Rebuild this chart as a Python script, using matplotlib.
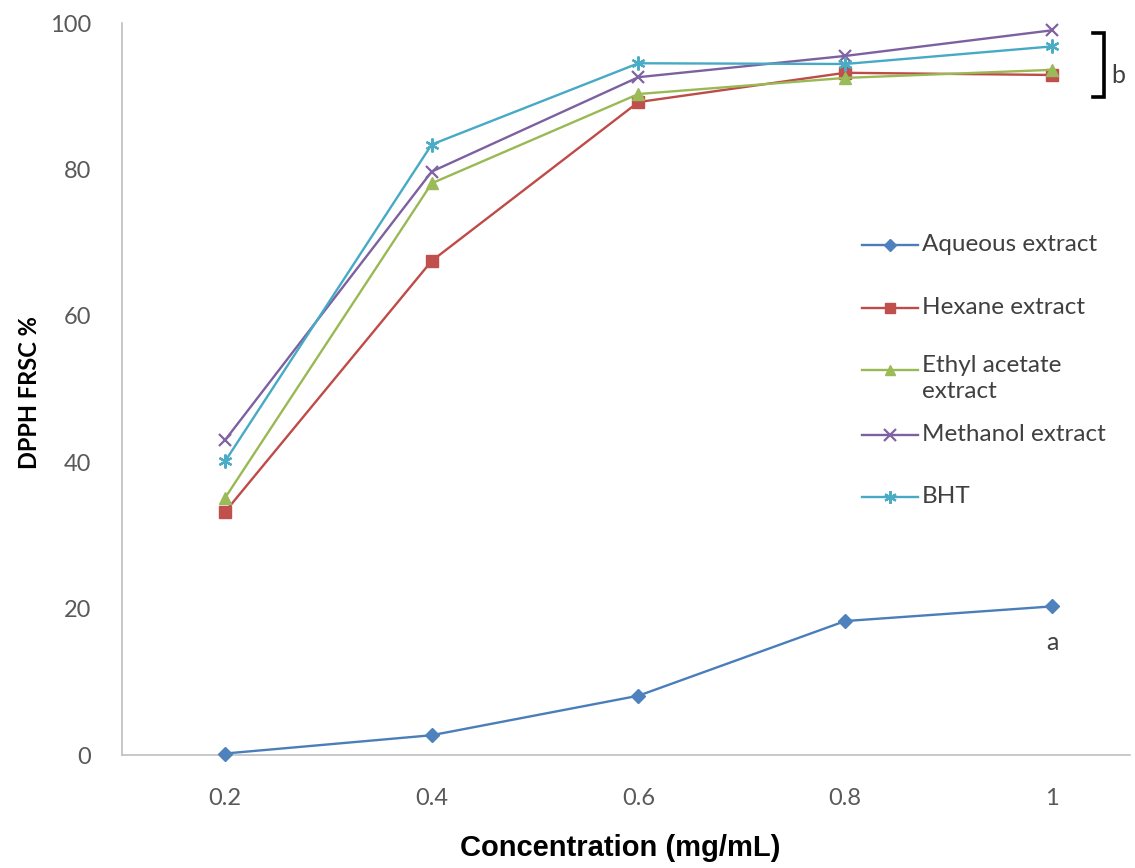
import matplotlib
matplotlib.use("Agg")
import matplotlib.pyplot as plt
from matplotlib.lines import Line2D

concentration = [0.2, 0.4, 0.6, 0.8, 1.0]
x_tick_labels = ["0.2", "0.4", "0.6", "0.8", "1"]
y_ticks = [0, 20, 40, 60, 80, 100]

aqueous = [0.2, 2.7, 8.1, 18.3, 20.3]
hexane = [33.2, 67.5, 89.2, 93.2, 92.9]
ethyl_acetate = [35.1, 78.1, 90.3, 92.5, 93.6]
methanol = [43.0, 79.7, 92.6, 95.5, 99.0]
bht = [40.1, 83.4, 94.5, 94.4, 96.8]

series_labels = ["Aqueous extract", "Hexane extract", "Ethyl acetate\nextract",
                 "Methanol extract", "BHT"]
series_values = [aqueous, hexane, ethyl_acetate, methanol, bht]
line_colors = ["#4A7EBB", "#BE4B48", "#98B954", "#7D60A0", "#46AAC5"]
marker_colors = ["#4F81BD", "#C0504D", "#9BBB59", "#8064A2", "#4BACC6"]
markers = ["D", "s", "^", "x", (6, 2, 0)]
marker_sizes = [7, 8, 8, 9, 10]

tick_font = "Lato"
fig = plt.figure(figsize=(11.35, 8.68), dpi=100)
ax = fig.add_axes([122 / 1135, 1 - 755 / 868, (1130 - 122) / 1135, (755 - 23) / 868])

for vals, col, mcol, mk, ms in zip(series_values, line_colors, marker_colors, markers, marker_sizes):
    ax.plot(concentration, vals, color=col, lw=1.7, marker=mk, markersize=ms,
            markerfacecolor=mcol, markeredgecolor=mcol,
            markeredgewidth=1.6 if mk in ("x", (6, 2, 0)) else 1.0,
            clip_on=False, zorder=3)

ax.set_xlim(0.1004, 1.0755)
ax.set_ylim(0, 100)
ax.set_xticks(concentration)
ax.set_xticklabels(x_tick_labels)
ax.set_yticks(y_ticks)
ax.tick_params(axis="both", length=0, labelsize=17, labelcolor="#595959")
ax.tick_params(axis="x", pad=24)
ax.tick_params(axis="y", pad=22)
for lab in ax.get_xticklabels() + ax.get_yticklabels():
    lab.set_family(tick_font)
for s in ["top", "right"]:
    ax.spines[s].set_visible(False)
for s in ["left", "bottom"]:
    ax.spines[s].set_color("#BFBFBF")
    ax.spines[s].set_linewidth(1.2)

fig.text(620 / 1135, 1 - 848 / 868, "Concentration (mg/mL)", ha="center", va="center",
         fontsize=21, fontweight="bold", family="Liberation Sans")
fig.text(30 / 1135, 1 - 393 / 868, "DPPH FRSC %", rotation=90, ha="center", va="center",
         fontsize=17, fontweight="bold", family="Lato")

# annotations
ax.plot([1.040, 1.050, 1.050, 1.040], [98.6, 98.6, 89.9, 89.9], color="black", lw=2.6,
        clip_on=False, solid_joinstyle="miter")
ax.text(1.0639, 92.8, "b", fontsize=18, family=tick_font, color="#404040", va="center", ha="center")
ax.text(1.0, 15.4, "a", fontsize=18, family=tick_font, color="#404040", va="center", ha="center")

# manual legend
leg_y = [245, 308, 370, 435, 497]
for lab, col, mcol, mk, ms, yy in zip(series_labels, line_colors, marker_colors, markers, marker_sizes, leg_y):
    yf = 1 - yy / 868
    fig.add_artist(Line2D([862 / 1135, 918 / 1135], [yf, yf], color=col, lw=1.7,
                          transform=fig.transFigure))
    fig.add_artist(Line2D([890 / 1135], [yf], color=col, marker=mk, markersize=ms - 1,
                          markerfacecolor=mcol, markeredgecolor=mcol,
                          markeredgewidth=1.6 if mk in ("x", (6, 2, 0)) else 1.0,
                          transform=fig.transFigure))
    if "\n" in lab:
        fig.text(922 / 1135, yf + 15 / 868, lab, fontsize=17.5, family=tick_font, color="#404040",
                 va="top", ha="left", linespacing=1.3)
    else:
        fig.text(922 / 1135, yf + 0.001, lab, fontsize=17.5, family=tick_font, color="#404040",
                 va="center", ha="left")

fig.savefig("out.png", dpi=100)
